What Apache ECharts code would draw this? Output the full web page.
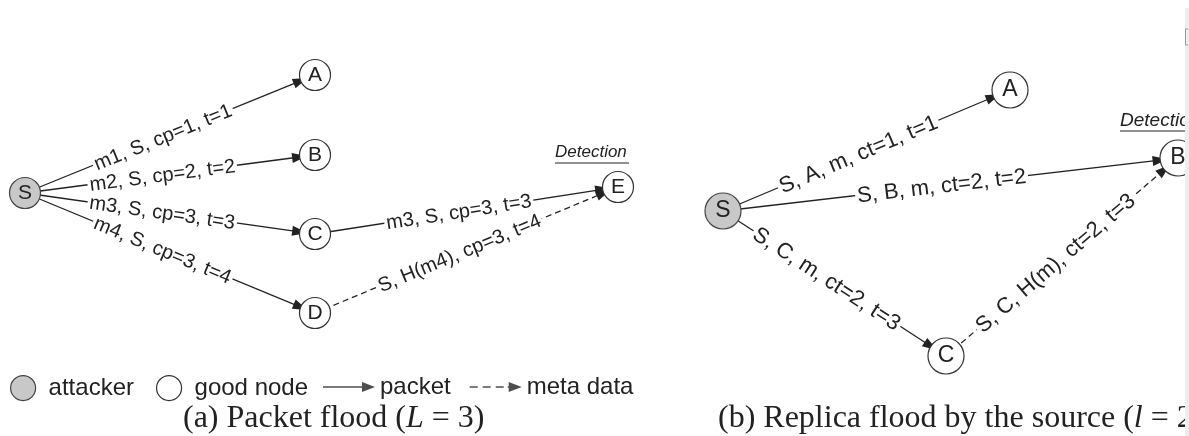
<!DOCTYPE html>
<html>
<head>
<meta charset="utf-8">
<script src="https://cdn.jsdelivr.net/npm/echarts@6/dist/echarts.min.js"></script>
<style>
  html, body { margin: 0; padding: 0; background: #fff; }
  #chart { width: 1189px; height: 436px; }
</style>
</head>
<body>
<div id="chart"></div>
<script>
// (a) packet flood
const leftNodeNames = ['S', 'A', 'B', 'C', 'D', 'E'];
const leftNodeX = [25, 315, 315, 315, 315, 618];
const leftNodeY = [193, 75, 155, 234, 313, 187];
const leftNodeRole = ['attacker', 'good node', 'good node', 'good node', 'good node', 'good node'];
const leftEdgeFrom = ['S', 'S', 'S', 'S', 'C', 'D'];
const leftEdgeTo = ['A', 'B', 'C', 'D', 'E', 'E'];
const leftEdgeText = ['m1, S, cp=1, t=1', 'm2, S, cp=2, t=2', 'm3, S, cp=3, t=3', 'm4, S, cp=3, t=4', 'm3, S, cp=3, t=3', 'S, H(m4), cp=3, t=4'];
const leftEdgeKind = ['packet', 'packet', 'packet', 'packet', 'packet', 'meta data'];

// (b) replica flood by the source
const rightNodeNames = ['S', 'A', 'B', 'C'];
const rightNodeX = [723, 1010, 1178, 946];
const rightNodeY = [211, 90, 158, 356];
const rightNodeRole = ['attacker', 'good node', 'good node', 'good node'];
const rightEdgeFrom = ['S', 'S', 'S', 'C'];
const rightEdgeTo = ['A', 'B', 'C', 'B'];
const rightEdgeText = ['S, A, m, ct=1, t=1', 'S, B, m, ct=2, t=2', 'S, C, m, ct=2, t=3', 'S, C, H(m), ct=2, t=3'];
const rightEdgeKind = ['packet', 'packet', 'packet', 'meta data'];

const nodeRoles = ['attacker', 'good node'];
const edgeKinds = ['packet', 'meta data'];
const captions = ['(a) Packet flood ({i|L} = 3)', '(b) Replica flood by the source ({i|l} = 2'];
const detectionText = 'Detection';

const FONT = 'Liberation Sans';
const SERIF = 'Liberation Serif';
const INK = '#222';

const roleStyle = {
  'attacker': { color: '#c8c8c8', borderColor: '#444', borderWidth: 1.2 },
  'good node': { color: '#fff', borderColor: '#333', borderWidth: 1.2 }
};

// 生成一个流程图 graph
const flowGraph = (names, xs, ys, roles, from, to, texts, kinds, nodeSize, fontSize) => ({
  type: 'graph',
  layout: 'none',
  coordinateSystem: 'cartesian2d',
  categories: nodeRoles.map(r => ({ name: r, itemStyle: roleStyle[r] })),
  symbol: 'circle',
  symbolSize: nodeSize,
  edgeSymbol: ['none', 'triangle'],
  edgeSymbolSize: [0, [10, 15]],
  label: {
    show: true,
    position: 'inside',
    formatter: '{b}',
    fontFamily: FONT,
    fontSize: fontSize + 1,
    color: INK
  },
  edgeLabel: {
    show: true,
    position: 'middle',
    distance: -Math.round(fontSize / 2) - 1,
    fontFamily: FONT,
    fontSize: fontSize,
    color: INK,
    backgroundColor: '#fff',
    padding: [0, 2]
  },
  lineStyle: { color: INK, width: 1.3, opacity: 1, curveness: 0 },
  emphasis: { disabled: true },
  data: names.map((n, i) => ({
    name: n,
    value: [xs[i], ys[i]],
    category: nodeRoles.indexOf(roles[i])
  })),
  links: from.map((f, i) => ({
    source: f,
    target: to[i],
    label: { formatter: texts[i] },
    lineStyle: { type: kinds[i] === 'meta data' ? [6, 4] : 'solid' }
  }))
});

const arrowIcon = 'path://M0,4.3L41,4.3L41,5.7L0,5.7Z M39,0L52,5L39,10Z';
const dashArrowIcon = 'path://M0,4.3h8v1.4h-8Z M13,4.3h8v1.4h-8Z M26,4.3h8v1.4h-8Z M38,4.3h4v1.4h-4Z M39,0L52,5L39,10Z';

const chart = echarts.init(document.getElementById('chart'));

const option = {
  animation: false,
  backgroundColor: '#fff',
  grid: { left: 0, right: 0, top: 0, bottom: 0 },
  xAxis: { type: 'value', min: 0, max: 1189, show: false },
  yAxis: { type: 'value', min: 0, max: 436, inverse: true, show: false },
  title: captions.map((c, i) => ({
    text: c,
    left: i === 0 ? 183 : 718,
    top: 403,
    padding: 0,
    textStyle: {
      fontFamily: SERIF,
      fontSize: 32,
      fontWeight: 'normal',
      color: INK,
      rich: { i: { fontFamily: SERIF, fontSize: 32, fontStyle: 'italic', color: INK } }
    }
  })),
  legend: [
    {
      left: 10,
      top: 375,
      itemWidth: 25,
      itemHeight: 25,
      itemGap: 22,
      selectedMode: false,
      padding: 0,
      data: nodeRoles.map(r => ({ name: r, icon: 'circle', itemStyle: roleStyle[r] })),
      textStyle: { fontFamily: FONT, fontSize: 24, color: INK, padding: [0, 0, 0, 8] }
    },
    {
      left: 323,
      top: 375,
      itemWidth: 52,
      itemHeight: 10,
      itemGap: 19,
      selectedMode: false,
      padding: 0,
      data: [
        { name: edgeKinds[0], icon: arrowIcon },
        { name: edgeKinds[1], icon: dashArrowIcon }
      ],
      itemStyle: { color: INK },
      textStyle: { fontFamily: FONT, fontSize: 24, color: INK }
    }
  ],
  graphic: [
    {
      type: 'text', left: 555, top: 144, z: 10,
      style: { text: detectionText, font: 'italic 17px "Liberation Sans"', fill: INK }
    },
    {
      type: 'line', z: 10,
      shape: { x1: 555, y1: 163, x2: 629, y2: 163 },
      style: { stroke: INK, lineWidth: 1 }
    },
    {
      type: 'text', left: 1120, top: 111, z: 10,
      style: { text: detectionText, font: 'italic 19px "Liberation Sans"', fill: INK }
    },
    {
      type: 'line', z: 10,
      shape: { x1: 1120, y1: 131, x2: 1189, y2: 131 },
      style: { stroke: INK, lineWidth: 1 }
    },
    {
      type: 'rect', z: 20,
      shape: { x: 1185, y: 8, width: 4, height: 428 },
      style: { fill: '#ededed' }
    },
    {
      type: 'polyline', z: 21,
      shape: { points: [[1188, 29], [1185.5, 29], [1185.5, 45], [1188, 45]] },
      style: { stroke: '#999', lineWidth: 1, fill: null }
    }
  ],
  series: [
    flowGraph(leftNodeNames, leftNodeX, leftNodeY, leftNodeRole, leftEdgeFrom, leftEdgeTo, leftEdgeText, leftEdgeKind, 31, 20),
    flowGraph(rightNodeNames, rightNodeX, rightNodeY, rightNodeRole, rightEdgeFrom, rightEdgeTo, rightEdgeText, rightEdgeKind, 36, 22),
    { type: 'scatter', name: edgeKinds[0], data: [], itemStyle: { color: INK } },
    { type: 'scatter', name: edgeKinds[1], data: [], itemStyle: { color: INK } }
  ]
};

chart.setOption(option);
window.addEventListener('resize', () => chart.resize());
</script>
</body>
</html>
